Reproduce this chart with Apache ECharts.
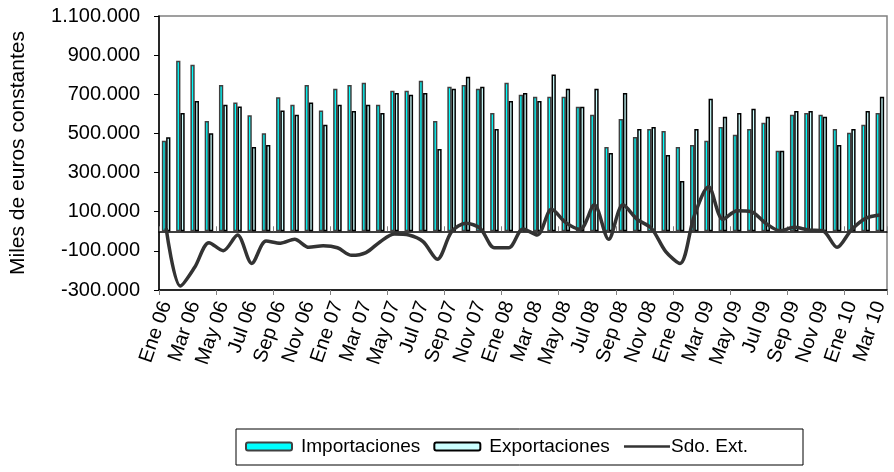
<!DOCTYPE html>
<html><head><meta charset="utf-8">
<script src="https://cdn.jsdelivr.net/npm/echarts@6/dist/echarts.min.js"></script>
<style>html,body{margin:0;padding:0;background:#fff}#c{width:894px;height:472px}</style>
</head><body><div id="c"></div>
<script>
const categories = ['Ene 06','Feb 06','Mar 06','Abr 06','May 06','Jun 06','Jul 06','Ago 06','Sep 06','Oct 06','Nov 06','Dic 06',
'Ene 07','Feb 07','Mar 07','Abr 07','May 07','Jun 07','Jul 07','Ago 07','Sep 07','Oct 07','Nov 07','Dic 07',
'Ene 08','Feb 08','Mar 08','Abr 08','May 08','Jun 08','Jul 08','Ago 08','Sep 08','Oct 08','Nov 08','Dic 08',
'Ene 09','Feb 09','Mar 09','Abr 09','May 09','Jun 09','Jul 09','Ago 09','Sep 09','Oct 09','Nov 09','Dic 09',
'Ene 10','Feb 10','Mar 10'];
const importaciones = [462000,871000,851000,564000,748000,658000,593000,501000,685000,646000,748000,617000,
728000,748000,759000,646000,718000,718000,769000,564000,738000,748000,728000,605000,
759000,697000,687000,687000,687000,636000,595000,431000,574000,482000,523000,513000,
431000,441000,462000,533000,493000,523000,554000,411000,595000,605000,595000,523000,
503000,544000,605000];
const exportaciones = [481000,604000,666000,501000,646000,637000,431000,441000,617000,595000,658000,544000,
646000,615000,646000,605000,707000,697000,707000,421000,728000,789000,738000,523000,
666000,707000,666000,801000,728000,636000,728000,400000,707000,523000,533000,390000,
257000,523000,677000,585000,605000,626000,585000,411000,615000,615000,585000,441000,
523000,615000,687000];
const saldo = [15000,-280000,-184000,-58000,-99000,-19000,-164000,-50000,-61000,-41000,-82000,-74000,
-84000,-123000,-109000,-53000,-14000,-19000,-53000,-143000,-2000,41000,15000,-84000,
-84000,12000,-19000,112000,44000,10000,135000,-41000,135000,61000,15000,-104000,
-164000,80000,228000,61000,105000,100000,41000,3000,20000,7000,3000,-82000,
7000,66000,83000];
const yMin = -300000, yMax = 1100000, yStep = 200000;
const yTitle = 'Miles de euros constantes';
const names = ['Importaciones','Exportaciones','Sdo. Ext.'];

function fmt(v){const s=String(Math.abs(v)).replace(/\B(?=(\d{3})+(?!\d))/g,'.');return (v<0?'-':'')+s;}
const FONT = '"Liberation Sans", Arial, sans-serif';
const chart = echarts.init(document.getElementById('c'));
chart.setOption({
  animation:false,
  textStyle:{fontFamily:FONT,color:'#000'},
  grid:{left:158,right:7,top:16,bottom:182,show:true,borderColor:'#808080',borderWidth:1.5,backgroundColor:'#fff'},
  graphic:[{type:'rect',shape:{x:236,y:429,width:567,height:36},style:{fill:'none',stroke:'#000',lineWidth:1},silent:true}],
  legend:{left:240,top:432,itemWidth:46,itemHeight:8,itemGap:13,
    textStyle:{fontSize:19,fontFamily:FONT,color:'#000',padding:[0,0,0,4]},
    data:[{name:names[0]},{name:names[1]},
      {name:names[2],itemStyle:{opacity:0},lineStyle:{width:2.5,color:'#333333'},textStyle:{padding:[0,0,0,-4]}}]},
  xAxis:[
    {type:'category',data:categories,position:'bottom',axisLine:{onZero:false,show:false},axisTick:{show:false},
     axisLabel:{interval:1,rotate:71,margin:12,fontSize:20,fontFamily:FONT,color:'#000'}},
    {type:'category',data:categories,position:'top',axisLine:{onZero:true,lineStyle:{color:'#000',width:1.5}},
     axisTick:{show:true,length:5,lineStyle:{color:'#808080'}},axisLabel:{show:false}},
    {type:'category',data:categories,position:'bottom',axisLine:{onZero:true,lineStyle:{color:'#000',width:1.5}},
     axisTick:{show:true,length:5,lineStyle:{color:'#808080'}},axisLabel:{show:false}}
  ],
  yAxis:{type:'value',min:yMin,max:yMax,interval:yStep,name:yTitle,nameLocation:'middle',nameGap:130,
    nameTextStyle:{fontSize:21,fontFamily:FONT,color:'#000'},
    axisLine:{show:true,lineStyle:{color:'#000',width:1.5}},axisTick:{show:true,length:5,lineStyle:{color:'#000'}},
    splitLine:{show:false},
    axisLabel:{formatter:fmt,fontSize:20,margin:19,fontFamily:FONT,color:'#000'}},
  series:[
    {name:names[0],type:'bar',data:importaciones,barWidth:'30%',barGap:'0%',
     itemStyle:{color:'#00FFFF',borderColor:'#404040',borderWidth:1.5}},
    {name:names[1],type:'bar',data:exportaciones,barWidth:'30%',barGap:'0%',
     itemStyle:{color:'#CCFFFF',borderColor:'#000',borderWidth:1.5}},
    {name:names[2],type:'line',data:saldo,smooth:0.3,symbol:'none',z:5,
     lineStyle:{color:'#333333',width:3.5},itemStyle:{color:'#333333'}}
  ]
});
</script></body></html>
